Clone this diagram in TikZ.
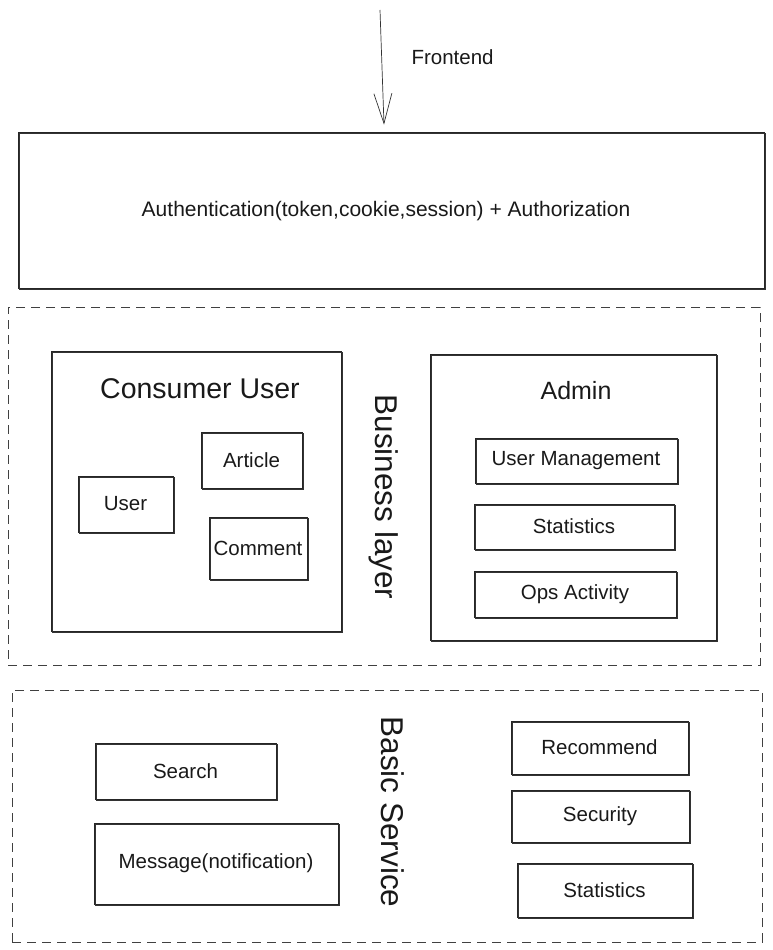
\documentclass[tikz,border=0pt]{standalone}
\usepackage{fontspec}
\setmainfont{Liberation Sans}
\usetikzlibrary{arrows.meta}
\tikzset{
  sk/.style={draw=black!85, line width=0.7pt, fill=none, inner sep=0pt,
    postaction={draw=black!80, line width=0.5pt, transform canvas={shift={(1.2pt,-1pt)}}}},
  dashbox/.style={draw=black!75, line width=0.9pt, dash pattern=on 9pt off 6pt},
  lbl/.style={font=\fontsize{20.5}{23}\selectfont, text=black!90},
  ttl/.style={font=\fontsize{25}{28}\selectfont, text=black!90},
  vert/.style={font=\fontsize{31.5}{34}\selectfont, text=black!90, rotate=-90},
  arr/.style={draw=black!80, line width=0.7pt, -{Straight Barb[length=30pt,width=18pt,line width=0.7pt]}}
}
\begin{document}
\begin{tikzpicture}[x=1pt,y=-1pt]
\useasboundingbox (0,0) rectangle (772,950);
% frontend arrow
\coordinate (fe) at (380,10);
\node[lbl, anchor=west] (front) at (408,57) {Frontend};
% auth box
\node[sk, minimum width=746pt, minimum height=156pt] (auth) at (391,210) {};
\node[lbl, font=\fontsize{21}{24}\selectfont] (authtxt) at (386,211) {Authentication(token,cookie,session) + Authorization};
\draw[arr] (fe) -- ([xshift=-7pt,yshift=7pt]auth.north);
% business layer
\node[dashbox, minimum width=752pt, minimum height=358pt] (biz) at (384,486) {};
\node[vert] (bizlbl) at (384,497) {Business layer};
% consumer user
\node[sk, minimum width=290pt, minimum height=280pt] (cons) at (196,491) {};
\node[ttl, font=\fontsize{28.5}{31}\selectfont] (constt) at (200,389) {Consumer User};
\node[sk, minimum width=101pt, minimum height=56pt] (art) at (251.5,460) {};
\node[lbl] at (art.center) {Article};
\node[sk, minimum width=95pt, minimum height=56pt] (usr) at (125.5,504) {};
\node[lbl] at (usr.center) {User};
\node[sk, minimum width=98pt, minimum height=62pt] (cmt) at (258,548) {};
\node[lbl] at (cmt.center) {Comment};
% admin
\node[sk, minimum width=286pt, minimum height=286pt] (adm) at (573,497) {};
\node[ttl] (admtt) at (576,391) {Admin};
\node[sk, minimum width=202pt, minimum height=45pt] (um) at (576,460.5) {};
\node[lbl] at (um.center) {User Management};
\node[sk, minimum width=200pt, minimum height=45pt] (st) at (574,526.5) {};
\node[lbl] at (st.center) {Statistics};
\node[sk, minimum width=202pt, minimum height=46pt] (ops) at (575,594) {};
\node[lbl] at (ops.center) {Ops Activity};
% basic service
\node[dashbox, minimum width=750pt, minimum height=252pt] (basic) at (387,816) {};
\node[vert] (baslbl) at (393,812) {Basic Service};
\node[sk, minimum width=181pt, minimum height=56pt] (srch) at (185.5,771) {};
\node[lbl] at (srch.center) {Search};
\node[sk, minimum width=244pt, minimum height=81pt] (msg) at (216,863.5) {};
\node[lbl] at (msg.center) {Message(notification)};
\node[sk, minimum width=177pt, minimum height=53pt] (rec) at (599.5,747.5) {};
\node[lbl] at (rec.center) {Recommend};
\node[sk, minimum width=178pt, minimum height=52pt] (sec) at (600,816) {};
\node[lbl] at (sec.center) {Security};
\node[sk, minimum width=175pt, minimum height=54pt] (st2) at (604.5,890) {};
\node[lbl] at (st2.center) {Statistics};
\end{tikzpicture}
\end{document}
